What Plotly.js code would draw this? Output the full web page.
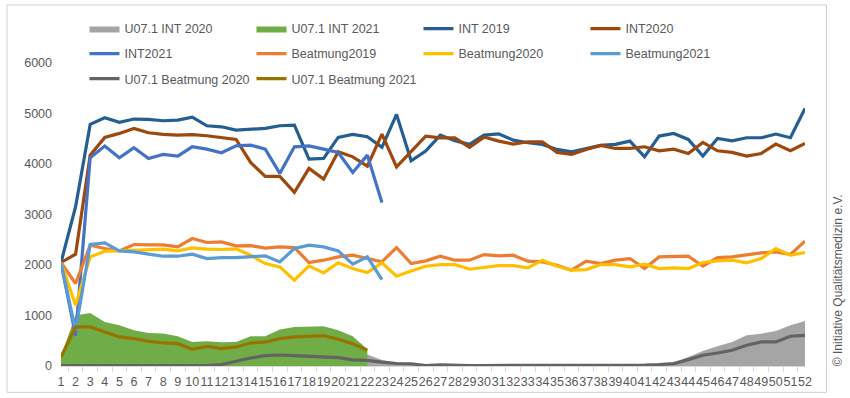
<!DOCTYPE html>
<html>
<head>
<meta charset="utf-8">
<script src="https://cdn.plot.ly/plotly-3.0.1.min.js"></script>
<style>
  html, body { margin: 0; padding: 0; background: #ffffff; }
  #chart { width: 850px; height: 398px; }
</style>
</head>
<body>
<div id="chart"></div>
<script>
const weeks = ['1','2','3','4','5','6','7','8','9','10','11','12','13','14','15','16','17','18','19','20','21','22','23','24','25','26','27','28','29','30','31','32','33','34','35','36','37','38','39','40','41','42','43','44','45','46','47','48','49','50','51','52'];

const u071Int2020 = [0,0,0,0,0,0,0,0,0,0,0,60,180,300,380,420,430,420,400,360,300,230,120,70,60,30,40,25,25,25,25,25,25,25,25,25,25,25,25,25,35,45,60,178,297,390,476,608,641,694,807,892];
const u071Int2021 = [200,1005,1050,872,807,708,654,642,589,476,490,470,476,589,589,721,773,773,787,708,589,331];
const int2019 = [2050,3155,4784,4915,4824,4890,4883,4856,4870,4929,4757,4737,4672,4691,4705,4757,4770,4097,4110,4527,4586,4539,4329,4983,4063,4255,4572,4460,4388,4572,4598,4473,4420,4388,4289,4242,4308,4370,4388,4454,4142,4553,4606,4487,4156,4507,4460,4520,4520,4593,4520,5101];
const int2020 = [2050,2214,4176,4527,4606,4705,4618,4586,4573,4580,4560,4520,4487,4030,3754,3754,3437,3912,3700,4241,4142,3958,4592,3944,4241,4553,4519,4519,4329,4533,4454,4394,4440,4440,4229,4190,4289,4368,4308,4308,4341,4262,4295,4209,4427,4262,4229,4156,4209,4394,4262,4407];
const int2021 = [2050,600,4123,4354,4123,4321,4110,4190,4156,4341,4295,4222,4360,4374,4295,3813,4341,4360,4295,4229,3833,4176,3238];
const beat2019 = [2049,1633,2392,2326,2280,2406,2400,2400,2359,2525,2446,2458,2379,2385,2333,2359,2346,2049,2095,2160,2194,2128,2062,2346,2029,2082,2174,2095,2095,2207,2181,2194,2075,2062,1996,1897,2075,2029,2095,2128,1930,2160,2174,2174,1976,2148,2160,2207,2240,2260,2207,2472];
const beat2020 = [2049,1203,2161,2273,2280,2293,2307,2313,2280,2339,2313,2307,2319,2194,2029,1962,1698,1982,1843,2042,1930,1851,2042,1778,1883,1976,2009,2009,1916,1950,1989,1989,1943,2095,1976,1897,1910,2009,2009,1962,2016,1930,1943,1930,2049,2082,2095,2042,2128,2326,2194,2247];
const beat2021 = [2049,700,2406,2439,2280,2260,2214,2174,2174,2214,2128,2148,2148,2161,2181,2062,2326,2392,2359,2280,2016,2160,1712];
const u071Beat2020 = [10,10,10,10,10,10,10,10,10,10,10,30,93,159,206,218,206,192,178,166,120,110,75,50,45,10,25,10,10,10,10,10,10,10,10,10,10,10,10,10,20,30,47,127,212,258,311,410,476,476,589,608];
const u071Beat2021 = [178,773,773,674,575,543,490,456,443,331,390,344,377,456,476,543,575,589,602,529,443,311];

const seriesNames = ['U07.1 INT 2020','U07.1 INT 2021','INT 2019','INT2020','INT2021','Beatmung2019','Beatmung2020','Beatmung2021','U07.1 Beatmung 2020','U07.1 Beatmung 2021'];
const yTicks = [0,1000,2000,3000,4000,5000,6000];
const copyright = '© Initiative Qualitätsmedizin e.V.';

const FONT = 'Liberation Sans, Arial, sans-serif';
const TXT = '#595959';

function xs(arr){ return weeks.slice(0, arr.length); }

function areaTrace(name, vals, color, legend){
  return {type:'scatter', mode:'lines', name:name, x:xs(vals), y:vals,
    fill:'tozeroy', fillcolor:color, line:{width:0, color:color},
    legend:legend, hoverinfo:'skip'};
}
function lineTrace(name, vals, color, legend){
  return {type:'scatter', mode:'lines', name:name, x:xs(vals), y:vals,
    line:{width:3.2, color:color}, legend:legend, hoverinfo:'skip'};
}

const traces = [
  areaTrace(seriesNames[0], u071Int2020, '#A5A5A5', 'legend'),
  areaTrace(seriesNames[1], u071Int2021, '#70AD47', 'legend'),
  lineTrace(seriesNames[2], int2019, '#255E91', 'legend'),
  lineTrace(seriesNames[3], int2020, '#9E480E', 'legend'),
  lineTrace(seriesNames[4], int2021, '#4472C4', 'legend2'),
  lineTrace(seriesNames[5], beat2019, '#ED7D31', 'legend2'),
  lineTrace(seriesNames[6], beat2020, '#FFC000', 'legend2'),
  lineTrace(seriesNames[7], beat2021, '#5B9BD5', 'legend2'),
  lineTrace(seriesNames[8], u071Beat2020, '#636363', 'legend3'),
  lineTrace(seriesNames[9], u071Beat2021, '#997300', 'legend3')
];

// plot area geometry (px)
const L = 60.5, R = 805, T = 63, B = 365.7;
const W = R - L, H = B - T;
const px = p => (p - L) / W;
const py = p => (B - p) / H;

function legendAt(yPix){
  return {orientation:'h', x:px(84), xanchor:'left', y:py(yPix), yanchor:'middle',
    entrywidth:122, entrywidthmode:'pixels', bgcolor:'rgba(0,0,0,0)',
    font:{family:FONT, size:12.5, color:TXT}, traceorder:'normal'};
}

const layout = {
  width:850, height:398,
  margin:{l:L, r:850-R, t:T, b:398-B, pad:0},
  paper_bgcolor:'#ffffff', plot_bgcolor:'#ffffff',
  font:{family:FONT, size:12.5, color:TXT},
  showlegend:true,
  legend:legendAt(29),
  legend2:legendAt(54),
  legend3:legendAt(79),
  xaxis:{type:'category', categoryarray:weeks, categoryorder:'array',
    tickmode:'array', tickvals:weeks, ticktext:weeks, tickangle:0,
    tickson:'boundaries', ticks:'outside', ticklen:5, tickcolor:'#D9D9D9',
    showline:true, linecolor:'#D9D9D9', linewidth:1, showgrid:false, zeroline:false,
    ticklabelstandoff:4,
    tickfont:{family:FONT, size:12.5, color:TXT}, fixedrange:true},
  yaxis:{range:[0,6000], tickmode:'array', tickvals:yTicks, ticktext:yTicks.map(String),
    showgrid:false, zeroline:false, showline:false, ticks:'', ticklabelstandoff:8,
    tickfont:{family:FONT, size:12.5, color:TXT}, fixedrange:true},
  shapes:[{type:'rect', xref:'paper', yref:'paper', x0:px(6.5), x1:px(826.5), y0:py(392), y1:py(5),
    line:{color:'#D0D0D0', width:1}, fillcolor:'rgba(0,0,0,0)', layer:'below'}],
  annotations:[{text:copyright, xref:'paper', yref:'paper', x:px(838), y:py(280),
    xanchor:'center', yanchor:'middle', textangle:-90, showarrow:false,
    font:{family:FONT, size:12, color:TXT}}]
};

Plotly.newPlot('chart', traces, layout, {displayModeBar:false, staticPlot:true});
</script>
</body>
</html>
